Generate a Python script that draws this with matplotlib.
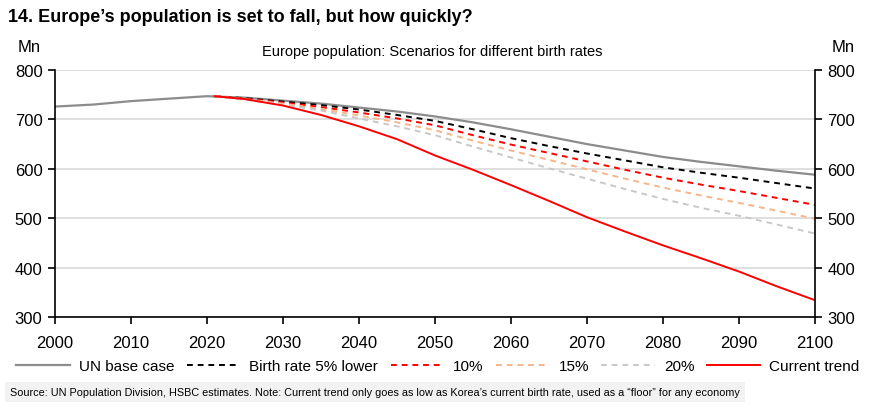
import numpy as np
import matplotlib
matplotlib.use('Agg')
import matplotlib.pyplot as plt
import matplotlib as mpl

mpl.rcParams['font.family'] = ['Liberation Sans', 'DejaVu Sans']

# history + UN base case
base_years = [2000, 2005, 2010, 2015, 2020, 2025, 2030, 2035, 2040, 2045, 2050,
              2055, 2060, 2065, 2070, 2075, 2080, 2085, 2090, 2095, 2100]
un_base = [726, 730, 737, 742, 747, 744, 738, 732, 724, 716, 706,
           694, 680, 665, 650, 637, 624, 614, 605, 596, 588]

# scenarios start in 2021
scen_years = [2021, 2025, 2030, 2035, 2040, 2045, 2050, 2055, 2060,
              2065, 2070, 2075, 2080, 2085, 2090, 2095, 2100]
br_5 = [747, 743, 736, 729, 720, 709, 697, 680, 662, 646, 631, 617, 603, 592, 582, 571, 560]
br_10 = [747, 742, 734, 725, 714, 702, 688, 668, 649, 632, 615, 598, 582, 568, 555, 541, 527]
br_15 = [747, 741, 732, 721, 708, 694, 678, 657, 637, 618, 599, 580, 562, 546, 531, 515, 499]
br_20 = [747, 740, 730, 718, 702, 686, 668, 645, 623, 601, 580, 559, 539, 521, 505, 487, 469]
current = [747, 741, 728, 709, 686, 660, 627, 598, 567, 535, 502, 473, 445, 419, 392, 362, 334]

W, H = 869, 414
fig = plt.figure(figsize=(W/100, H/100), dpi=100)
ax = fig.add_axes([55/W, 1-318/H, (815-55)/W, (318-71)/H])

dash = (0, (3, 2.5))
ax.plot(base_years, un_base, color='#8c8c8c', lw=1.6, label='UN base case')
ax.plot(scen_years, br_5, color='black', lw=1.4, ls=dash, label='Birth rate 5% lower')
ax.plot(scen_years, br_10, color='#ff0000', lw=1.4, ls=dash, label='10%')
ax.plot(scen_years, br_15, color='#f7b58a', lw=1.4, ls=dash, label='15%')
ax.plot(scen_years, br_20, color='#c8c8c8', lw=1.4, ls=dash, label='20%')
ax.plot(scen_years, current, color='#ff0000', lw=1.4, label='Current trend')

ax.set_xlim(2000, 2100)
ax.set_ylim(300, 800)
ax.set_xticks(range(2000, 2101, 10))
ax.set_yticks(range(300, 801, 100))
ax.grid(axis='y', color='#d9d9d9', lw=1.2)
ax.set_axisbelow(True)
ax.spines['top'].set_visible(False)
for s in ['left', 'right', 'bottom']:
    ax.spines[s].set_color('black')
    ax.spines[s].set_linewidth(1.2)
ax.tick_params(axis='both', labelsize=12, direction='out', length=5, width=1.2, color='black')
ax.tick_params(axis='y', right=True, labelright=True, pad=4)
ax.tick_params(axis='x', pad=8)

fig.text(8/W, 1-17/H, "14. Europe\u2019s population is set to fall, but how quickly?",
         fontsize=13, fontweight='bold', va='center', ha='left')
fig.text(18/W, 1-48/H, 'Mn', fontsize=12, va='center', ha='left')
fig.text(832/W, 1-48/H, 'Mn', fontsize=12, va='center', ha='left')
fig.text(432/W, 1-52/H, 'Europe population: Scenarios for different birth rates',
         fontsize=10.5, va='center', ha='center')

fig.legend(loc='center', bbox_to_anchor=(438/W, 1-367/H), ncol=6, frameon=False,
           fontsize=11, handlelength=3.5, columnspacing=0.8, handletextpad=0.6)

fig.text(10/W, 1-393/H,
         'Source: UN Population Division, HSBC estimates. Note: Current trend only goes as low as Korea\u2019s current birth rate, used as a \u201cfloor\u201d for any economy',
         fontsize=7.8, va='center', ha='left',
         bbox=dict(facecolor='#f2f2f2', edgecolor='none', pad=3.5))

fig.savefig('out.png', dpi=100)
